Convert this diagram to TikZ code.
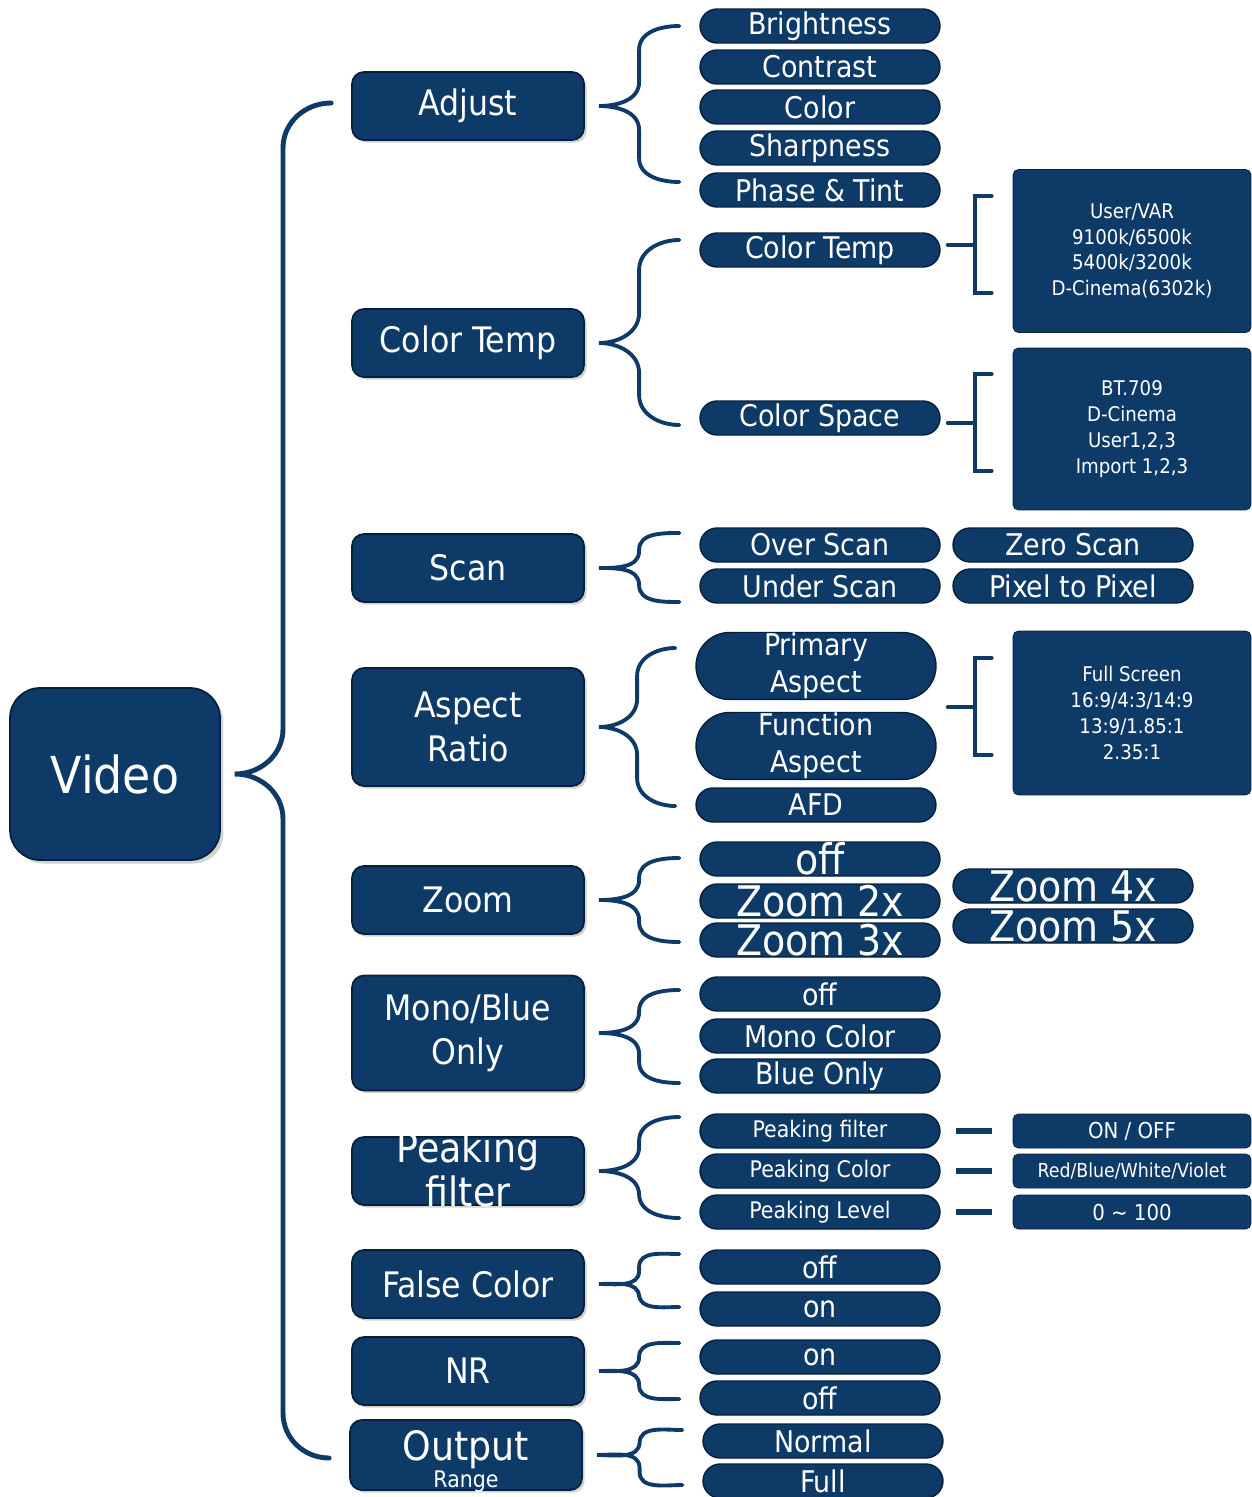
\documentclass[tikz,border=0pt]{standalone}
\usepackage{fontspec}
\setmainfont{DejaVu Sans Condensed}
\usetikzlibrary{shapes.misc, shadows, calc}

\definecolor{menublue}{RGB}{13,58,103}
\definecolor{menudark}{RGB}{5,32,60}

\tikzstyle{rootbox}   = [draw=menudark, line width=1pt, fill=menublue, rounded corners=0.6cm, minimum width=4.2cm, minimum height=3.44cm, text=white, font=\fontsize{29}{34}\selectfont, drop shadow={opacity=0.35, shadow xshift=2pt, shadow yshift=-2pt}]
\tikzstyle{groupbox}  = [draw=menudark, line width=1pt, fill=menublue, rounded corners=0.24cm, minimum width=4.64cm, minimum height=1.36cm, inner sep=0pt, text=white, align=center, font=\fontsize{20}{25}\selectfont, drop shadow={opacity=0.35, shadow xshift=1.5pt, shadow yshift=-1.5pt}]
\tikzstyle{itempill}  = [rounded rectangle, draw=menudark, line width=0.8pt, fill=menublue, minimum width=4.8cm, minimum height=0.68cm, inner sep=0pt, text=white, align=center, font=\fontsize{17}{21}\selectfont]
\tikzstyle{bigpill}   = [itempill, font=\fontsize{24}{28}\selectfont]
\tikzstyle{smallpill} = [itempill, font=\fontsize{13}{16}\selectfont]
\tikzstyle{valuebox}  = [draw=menudark, fill=menublue, rounded corners=3pt, minimum width=4.76cm, inner sep=0pt, text=white, align=center, font=\fontsize{11.5}{14.7}\selectfont]
\tikzstyle{menuline}  = [draw=menublue, line width=2.2pt, line cap=round]
\tikzstyle{mainbrace} = [line width=2.8pt]

% how far the brace ends reach past the first / last child (px)
\tikzset{brace top/.store in=\bracetop, brace bottom/.store in=\bracebottom,
  brace top=0, brace bottom=0}

% text that may stick out of its box
\newcommand{\flattext}[2][.36em]{\raisebox{-#1}[0pt][0pt]{#2}}

% curly brace: [radius] {style} {parent} {first child} {last child}
\newcommand{\menubrace}[5][12]{%
  \draw[menuline,#2] let \p1=($(#3.east)+(14,0)$), \p2=($(#4.west)+(-20,-\bracetop)$),
      \p3=($(#5.west)+(-20,\bracebottom)$), \p4=($(\p1)!0.5!(\p2)$), \p5=(#1,0) in
    (\p2) to[out=180,in=90] (\x4,\y2-\x5) -- (\x4,\y1+\x5)
    to[out=-90,in=0] (\p1) to[out=0,in=90] (\x4,\y1-\x5)
    -- (\x4,\y3+\x5) to[out=-90,in=180] (\p3);}

% square bracket in front of a value box
\newcommand{\valuebracket}[1]{%
  \draw[menuline] ($(#1.west)+(-65,-6)$) -- ($(#1.west)+(-38,-6)$);
  \draw[menuline] ($(#1.west)+(-21,-55)$) -- ($(#1.west)+(-38,-55)$)
    -- ($(#1.west)+(-38,42)$) -- ($(#1.west)+(-21,42)$);}

\begin{document}
\begin{tikzpicture}[x=0.02cm, y=-0.02cm]
\useasboundingbox (0,0) rectangle (1251,1497);

\node[rootbox] (video) at (115,774) {Video};

% first level
\node[groupbox] (adjust)     at (468,106)  {Adjust};
\node[groupbox] (colortemp)  at (468,343)  {Color Temp};
\node[groupbox] (scan)       at (468,568)  {Scan};
\node[groupbox, minimum height=2.36cm] (aspect) at (468,727) {Aspect\\Ratio};
\node[groupbox] (zoom)       at (468,900)  {Zoom};
\node[groupbox, minimum height=2.3cm] (mono) at (468,1033) {Mono/Blue\\Only};
\node[groupbox, font=\fontsize{23}{25.5}\selectfont] (peaking) at (468,1171)
  {\flattext[8.8pt]{\begin{tabular}{@{}c@{}}Peaking\\filter\end{tabular}}};
\node[groupbox] (falsecolor) at (468,1284) {False Color};
\node[groupbox] (nr)         at (468,1371) {NR};
\node[groupbox, minimum height=1.4cm, font=\fontsize{23}{26}\selectfont,
  label={[anchor=base, yshift=2pt, text=white, font=\fontsize{13}{15}\selectfont]south:Range}]
  (output) at (466,1455) {\flattext[3pt]{Output}};

% adjust
\node[itempill] (bright)   at (820,26)  {Brightness};
\node[itempill] (contrast) at (820,67)  {Contrast};
\node[itempill] (color)    at (820,107) {Color};
\node[itempill] (sharp)    at (820,148) {Sharpness};
\node[itempill] (phase)    at (820,190) {Phase \& Tint};

% color temp
\node[itempill] (ctitem) at (820,250) {Color Temp};
\node[itempill] (csitem) at (820,418) {Color Space};
\node[valuebox, minimum height=3.26cm] (ctvalues) at (1132,251)
  {User/VAR\\9100k/6500k\\5400k/3200k\\D-Cinema(6302k)};
\node[valuebox, minimum height=3.24cm] (csvalues) at (1132,429)
  {BT.709\\D-Cinema\\User1,2,3\\Import 1,2,3};

% scan
\node[itempill] (overscan)  at (820,545)  {Over Scan};
\node[itempill] (underscan) at (820,586)  {Under Scan};
\node[itempill] (zeroscan)  at (1073,545) {Zero Scan};
\node[itempill] (pixel)     at (1073,586) {Pixel to Pixel};

% aspect ratio
\node[itempill, minimum height=1.34cm] (primary)  at (816,666) {Primary\\Aspect};
\node[itempill, minimum height=1.34cm] (function) at (816,746) {Function\\Aspect};
\node[itempill] (afd) at (816,805) {AFD};
\node[valuebox, minimum height=3.28cm] (arvalues) at (1132,713)
  {Full Screen\\16:9/4:3/14:9\\13:9/1.85:1\\2.35:1};

% zoom
\node[bigpill] (zoff) at (820,859)  {\flattext{off}};
\node[bigpill] (ztwo) at (820,901)  {\flattext{Zoom 2x}};
\node[bigpill] (zthree) at (820,940) {\flattext{Zoom 3x}};
\node[bigpill] (zfour) at (1073,886) {\flattext{Zoom 4x}};
\node[bigpill] (zfive) at (1073,926) {\flattext{Zoom 5x}};

% mono / blue
\node[itempill] (moff)      at (820,994)  {off};
\node[itempill] (monocolor) at (820,1036) {Mono Color};
\node[itempill] (blueonly)  at (820,1076) {Blue Only};

% peaking
\node[smallpill] (pkfilter) at (820,1131) {Peaking filter};
\node[smallpill] (pkcolor)  at (820,1171) {Peaking Color};
\node[smallpill] (pklevel)  at (820,1212) {Peaking Level};
\node[valuebox, minimum height=0.68cm, font=\fontsize{12.5}{15}\selectfont] (onoff)  at (1132,1131) {ON / OFF};
\node[valuebox, minimum height=0.68cm, font=\fontsize{11}{14}\selectfont]   (colors) at (1132,1171) {Red/Blue/White/Violet};
\node[valuebox, minimum height=0.68cm, font=\fontsize{12.5}{15}\selectfont] (level)  at (1132,1212) {0 \textasciitilde{} 100};

% false color, nr, output range
\node[itempill] (fcoff)  at (820,1267) {off};
\node[itempill] (fcon)   at (820,1309) {on};
\node[itempill] (nron)   at (820,1357) {on};
\node[itempill] (nroff)  at (820,1398) {off};
\node[itempill] (normal) at (823,1441) {Normal};
\node[itempill] (full)   at (823,1481) {Full};

% braces
\menubrace[45]{mainbrace, brace top=3, brace bottom=3}{video}{adjust}{output}
\menubrace[24]{brace bottom=-8}{adjust}{bright}{phase}
\menubrace[30]{brace top=10, brace bottom=7}{colortemp}{ctitem}{csitem}
\menubrace[17]{brace top=12, brace bottom=16}{scan}{overscan}{underscan}
\menubrace[28]{brace top=18, brace bottom=1}{aspect}{primary}{afd}
\menubrace[20]{brace top=1, brace bottom=2}{zoom}{zoff}{zthree}
\menubrace[21]{brace top=4, brace bottom=7}{mono}{moff}{blueonly}
\menubrace[24]{brace top=14, brace bottom=6}{peaking}{pkfilter}{pklevel}
\menubrace[13]{brace top=13, brace bottom=-2}{falsecolor}{fcoff}{fcon}
\menubrace[14]{brace top=14, brace bottom=1}{nr}{nron}{nroff}
\menubrace[13]{brace top=11, brace bottom=4}{output}{normal}{full}

\valuebracket{ctvalues}
\valuebracket{csvalues}
\valuebracket{arvalues}

\draw[menuline, line width=3pt, line cap=butt] ($(pkfilter.east)+(15,0)$) -- ($(onoff.west)+(-21,0)$);
\draw[menuline, line width=3pt, line cap=butt] ($(pkcolor.east)+(15,0)$) -- ($(colors.west)+(-21,0)$);
\draw[menuline, line width=3pt, line cap=butt] ($(pklevel.east)+(15,0)$) -- ($(level.west)+(-21,0)$);

\end{tikzpicture}
\end{document}
